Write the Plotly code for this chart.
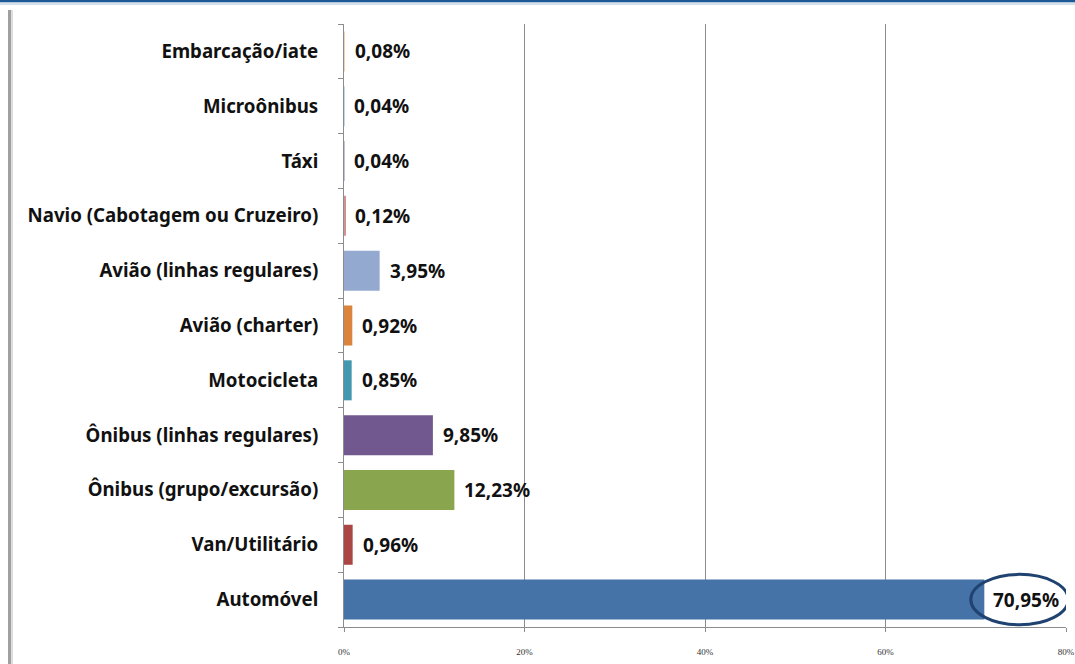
import plotly.graph_objects as go

categories = ["Automóvel", "Van/Utilitário", "Ônibus (grupo/excursão)", "Ônibus (linhas regulares)",
              "Motocicleta", "Avião (charter)", "Avião (linhas regulares)",
              "Navio (Cabotagem ou Cruzeiro)", "Táxi", "Microônibus", "Embarcação/iate"]
values = [70.95, 0.96, 12.23, 9.85, 0.85, 0.92, 3.95, 0.12, 0.04, 0.04, 0.08]
labels = ["70,95%", "0,96%", "12,23%", "9,85%", "0,85%", "0,92%", "3,95%", "0,12%", "0,04%", "0,04%", "0,08%"]
colors = ["#4572A7", "#AA4643", "#89A54E", "#71588F", "#4198AF", "#DB843D", "#93A9CF",
          "#D19392", "#C9C0D8", "#BFDCE6", "#F4D0B0"]
tick_vals = [0, 20, 40, 60, 80]
tick_text = ["0%", "20%", "40%", "60%", "80%"]

W, H = 1075, 664
L, R, T, B = 344, 9, 24, 37
pw, ph = W - L - R, H - T - B

def px_x(p):
    return (p - L) / pw

def px_y(p):
    return (H - B - p) / ph

fig = go.Figure()
fig.add_trace(go.Bar(
    y=categories, x=values, orientation="h",
    marker=dict(color=colors, line=dict(width=0)),
    hoverinfo="skip", showlegend=False,
))

for c, v, t in zip(categories, values, labels):
    fig.add_annotation(x=v, y=c, xref="x", yref="y", text=t, showarrow=False,
                       xanchor="left", xshift=8 if v < 50 else 7,
                       font=dict(family="Noto Sans", size=19, color="#111111", weight="bold"))

# ellipse around the largest value label
fig.add_shape(type="circle", xref="x", yref="y",
              x0=values[0] - 1.5, x1=values[0] + 9.3, y0=-0.46, y1=0.46,
              line=dict(color="#1F4270", width=3))

# decorative frame: top blue rule and left gray rule
fig.add_shape(type="rect", xref="paper", yref="paper",
              x0=px_x(0), x1=px_x(W), y0=px_y(2.5), y1=px_y(0),
              fillcolor="#1C5A96", line=dict(width=0), layer="above")
fig.add_shape(type="rect", xref="paper", yref="paper",
              x0=px_x(0), x1=px_x(W), y0=px_y(5), y1=px_y(2.5),
              fillcolor="#D5E0EB", line=dict(width=0), layer="above")
fig.add_shape(type="rect", xref="paper", yref="paper",
              x0=px_x(8), x1=px_x(11), y0=px_y(H), y1=px_y(10),
              fillcolor="#A0A0A0", line=dict(width=0))
fig.add_shape(type="rect", xref="paper", yref="paper",
              x0=px_x(11), x1=px_x(13), y0=px_y(H), y1=px_y(10),
              fillcolor="#DDDDDD", line=dict(width=0))

fig.update_layout(
    width=W, height=H,
    margin=dict(l=L, r=R, t=T, b=B, pad=0),
    paper_bgcolor="white", plot_bgcolor="white",
    bargap=0.27,
    xaxis=dict(range=[0, 80], tickvals=tick_vals, ticktext=tick_text,
               showgrid=True, gridcolor="#8C8C8C", gridwidth=1,
               showline=True, linecolor="#8C8C8C", linewidth=1,
               ticks="outside", ticklen=4, tickcolor="#8C8C8C",
               tickfont=dict(family="Liberation Serif", size=9, color="#333333"),
               ticklabelstandoff=12, automargin=False,
               zeroline=False, fixedrange=True),
    yaxis=dict(type="category", categoryorder="array", categoryarray=categories,
               showline=True, linecolor="#8C8C8C", linewidth=1,
               ticks="outside", ticklen=5, tickcolor="#8C8C8C", tickson="boundaries",
               tickfont=dict(family="Noto Sans", size=18.7, color="#111111", weight="bold"),
               automargin=False,
               showgrid=False, zeroline=False, fixedrange=True, ticklabelstandoff=21),
)

fig.write_html("out.html", config={"displayModeBar": False},
               post_script="document.body.style.margin='0';document.body.style.overflow='hidden';")
